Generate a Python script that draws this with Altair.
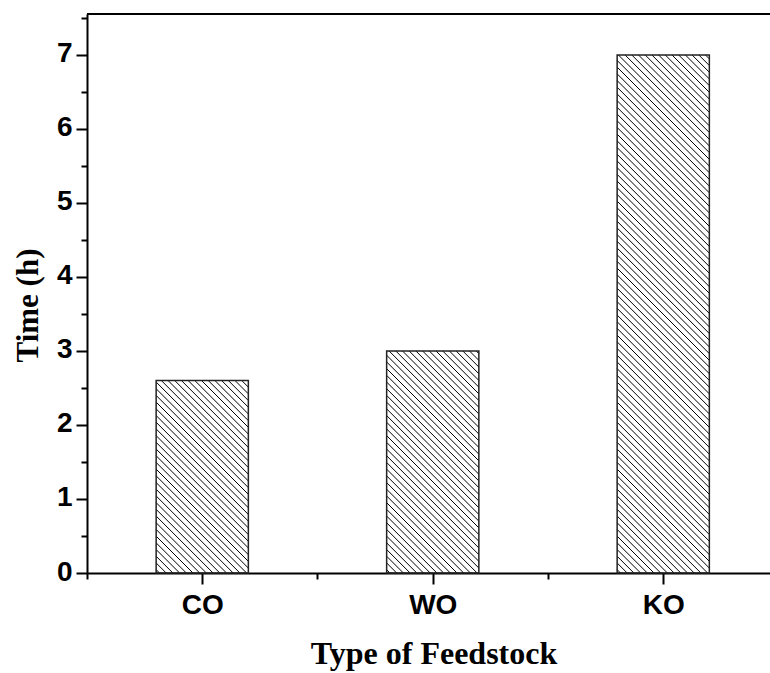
import altair as alt
import pandas as pd

# Reaction time per feedstock
feedstock = ["CO", "WO", "KO"]
positions = [1, 2, 3]
hours = [2.6, 3.0, 7.0]

major_y = [0, 1, 2, 3, 4, 5, 6, 7]
minor_y = [0.5, 1.5, 2.5, 3.5, 4.5, 5.5, 6.5, 7.5]
minor_x = [0.5, 1.5, 2.5]

# Plot geometry
PLOT_W = 683
PLOT_H = 559
CAT_PX = 230.5          # pixels between category centres
X_MIN = 0.5
X_MAX = X_MIN + PLOT_W / CAT_PX
Y_MAX = 7.554
BAR_HALF = 0.2
HATCH_STEP = 6.7        # horizontal spacing of hatch lines in pixels

X_PX = PLOT_W / (X_MAX - X_MIN)
Y_PX = PLOT_H / Y_MAX

bars = pd.DataFrame({
    "name": feedstock,
    "x": [p - BAR_HALF for p in positions],
    "x2": [p + BAR_HALF for p in positions],
    "y": [0.0] * len(hours),
    "y2": hours,
})

# Diagonal hatch segments (top-left to bottom-right) clipped to each bar
rows = []
for pos, h in zip(positions, hours):
    left = pos - BAR_HALF
    w = 2 * BAR_HALF * X_PX
    hp = h * Y_PX
    c = HATCH_STEP / 2
    while c < w + hp:
        p0 = max(0.0, c - hp)
        p1 = min(w, c)
        rows.append({
            "x": left + p0 / X_PX, "y": (c - p0) / Y_PX,
            "x2": left + p1 / X_PX, "y2": (c - p1) / Y_PX,
        })
        c += HATCH_STEP
hatch = pd.DataFrame(rows)

xscale = alt.Scale(domain=[X_MIN, X_MAX], nice=False, zero=False)
yscale = alt.Scale(domain=[0, Y_MAX], nice=False, zero=False)

label_expr = " : ".join(
    f"datum.value == {p} ? '{n}'" for p, n in zip(positions, feedstock)
) + " : ''"

SANS = "Liberation Sans"
SERIF = "Liberation Serif"

x_major = alt.Axis(
    orient="bottom", values=positions, labelExpr=label_expr,
    labelFont=SANS, labelFontSize=28, labelFontWeight="bold", labelColor="black",
    labelBaseline="alphabetic", labelPadding=29, labelFlush=False, labelOverlap=False,
    tickSize=11, tickWidth=2, tickColor="black",
    domainWidth=2, domainColor="black", grid=False,
    title="Type of Feedstock", titleFont=SERIF, titleFontSize=32, titleFontWeight="bold",
    titleColor="black", titleX=346.5, titleY=90, titleBaseline="alphabetic", titleAlign="center",
)
y_major = alt.Axis(
    orient="left", values=major_y, format="d",
    labelFont=SANS, labelFontSize=28, labelFontWeight="bold", labelColor="black",
    labelBaseline="alphabetic", labelOffset=7, labelPadding=4, labelFlush=False,
    labelOverlap=False,
    tickSize=11, tickWidth=2, tickColor="black",
    domainWidth=2, domainColor="black", grid=False,
    title="Time (h)", titleFont=SERIF, titleFontSize=31, titleFontWeight="bold",
    titleColor="black", titleAngle=-90, titleX=-50, titleY=291,
    titleBaseline="alphabetic", titleAlign="center",
)
x_minor = alt.Axis(
    orient="bottom", values=minor_x, labels=False, domain=False, grid=False,
    tickSize=6, tickWidth=2, tickColor="black", title="",
)
y_minor = alt.Axis(
    orient="left", values=minor_y, labels=False, domain=False, grid=False,
    tickSize=6, tickWidth=2, tickColor="black", title="",
)

hatch_layer = alt.Chart(hatch).mark_rule(color="black", strokeWidth=1).encode(
    x=alt.X("x:Q", scale=xscale, axis=x_minor),
    y=alt.Y("y:Q", scale=yscale, axis=y_minor),
    x2="x2:Q",
    y2="y2:Q",
)

bar_layer = alt.Chart(bars).mark_rect(
    fill="white", fillOpacity=0, stroke="#222222", strokeWidth=1.5
).encode(
    x=alt.X("x:Q", scale=xscale, axis=x_major),
    x2="x2:Q",
    y=alt.Y("y:Q", scale=yscale, axis=y_major),
    y2="y2:Q",
)

top_frame = alt.Chart(bars).mark_rule(color="black", strokeWidth=2).encode(
    x=alt.value(0), x2=alt.value(PLOT_W), y=alt.value(0)
)

chart = alt.layer(hatch_layer, bar_layer, top_frame).resolve_axis(
    x="independent", y="independent"
).properties(
    width=PLOT_W,
    height=PLOT_H,
    padding={"left": 87, "top": 14, "right": 0, "bottom": 100},
    autosize=alt.AutoSizeParams(type="none"),
    background="white",
).configure_view(strokeWidth=0)

chart.save("out.html", embed_options={"renderer": "svg", "actions": False})
